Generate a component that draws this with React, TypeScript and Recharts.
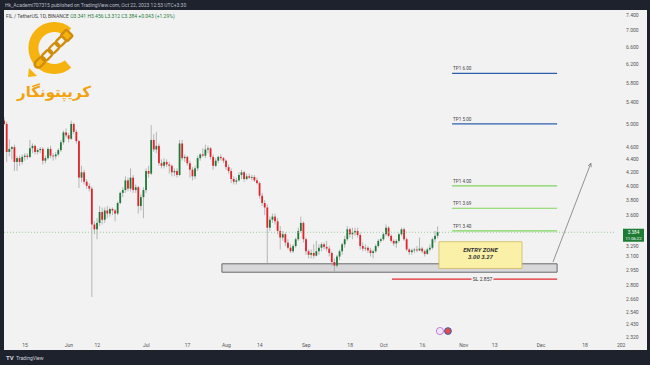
import React from 'react'
import {
  ComposedChart, Bar, XAxis, YAxis, ReferenceLine, ReferenceArea, ReferenceDot,
} from 'recharts'

// FIL / USDT daily candles, day index 0 = May 7 2023, last = Oct 22 2023
const opens = [
  5.06, 5.00, 4.52, 4.57, 4.60, 4.36, 4.42, 4.36, 4.44, 4.46, 4.44, 4.58, 4.62, 4.52, 4.55, 4.57, 4.38, 4.42, 4.57, 4.46,
  4.45, 4.48, 4.55, 4.68, 4.85, 4.80, 4.74, 5.00, 4.86, 4.70, 4.12, 4.20, 4.06, 4.00, 3.96, 3.48, 3.42, 3.50, 3.64, 3.54,
  3.66, 3.62, 3.68, 3.66, 3.62, 3.76, 3.90, 3.94, 4.08, 3.96, 4.12, 3.94, 3.98, 3.72, 3.84, 3.94, 4.22, 4.18, 4.72, 4.56,
  4.62, 4.34, 4.30, 4.36, 4.32, 4.30, 4.20, 4.22, 4.16, 4.66, 4.42, 4.44, 4.34, 4.24, 4.14, 4.26, 4.42, 4.48, 4.46, 4.56,
  4.58, 4.44, 4.30, 4.38, 4.44, 4.42, 4.38, 4.28, 4.22, 4.10, 4.06, 4.08, 4.16, 4.20, 4.10, 4.14, 4.12, 4.13, 4.08, 4.04,
  3.86, 3.76, 3.70, 3.44, 3.54, 3.58, 3.52, 3.40, 3.32, 3.36, 3.26, 3.20, 3.16, 3.22, 3.30, 3.40, 3.50, 3.30, 3.16, 3.12,
  3.14, 3.11, 3.16, 3.20, 3.24, 3.21, 3.19, 3.14, 3.04, 3.00, 3.10, 3.16, 3.24, 3.30, 3.42, 3.36, 3.38, 3.40, 3.35, 3.22,
  3.19, 3.20, 3.17, 3.14, 3.16, 3.22, 3.28, 3.30, 3.36, 3.44, 3.34, 3.28, 3.25, 3.28, 3.36, 3.42, 3.30, 3.18, 3.15, 3.17,
  3.18, 3.17, 3.19, 3.16, 3.13, 3.18, 3.20, 3.30, 3.341,
]
const highs = [
  5.12, 5.04, 4.73, 4.62, 4.64, 4.45, 4.46, 4.48, 4.50, 4.50, 4.72, 4.66, 4.64, 4.58, 4.60, 4.60, 4.46, 4.60, 4.62, 4.50,
  4.52, 4.58, 4.72, 4.88, 4.92, 4.84, 5.06, 5.02, 4.90, 4.72, 4.30, 4.24, 4.10, 4.04, 3.99, 3.52, 3.56, 3.72, 3.70, 3.70,
  3.72, 3.70, 3.70, 3.68, 3.78, 3.92, 3.98, 4.14, 4.12, 4.26, 4.16, 4.02, 4.00, 3.88, 3.98, 4.26, 4.30, 4.98, 4.82, 4.86,
  4.66, 4.40, 4.42, 4.40, 4.36, 4.32, 4.26, 4.26, 4.72, 4.72, 4.48, 4.46, 4.38, 4.28, 4.30, 4.46, 4.50, 4.58, 4.64, 4.62,
  4.60, 4.48, 4.42, 4.46, 4.48, 4.44, 4.40, 4.32, 4.26, 4.14, 4.12, 4.20, 4.24, 4.22, 4.18, 4.18, 4.16, 4.16, 4.12, 4.06,
  3.90, 3.80, 3.74, 3.58, 3.62, 3.62, 3.56, 3.46, 3.40, 3.38, 3.30, 3.24, 3.24, 3.32, 3.44, 3.58, 3.52, 3.32, 3.18, 3.18,
  3.24, 3.28, 3.24, 3.26, 3.26, 3.28, 3.22, 3.16, 3.08, 3.12, 3.18, 3.26, 3.34, 3.46, 3.44, 3.44, 3.44, 3.44, 3.38, 3.26,
  3.24, 3.22, 3.20, 3.18, 3.24, 3.30, 3.32, 3.38, 3.48, 3.46, 3.36, 3.30, 3.30, 3.38, 3.44, 3.44, 3.32, 3.20, 3.19, 3.20,
  3.22, 3.32, 3.21, 3.18, 3.20, 3.24, 3.32, 3.40, 3.456,
]
const lows = [
  4.98, 4.36, 4.45, 4.40, 4.22, 4.22, 4.30, 4.32, 4.38, 4.40, 4.42, 4.50, 4.48, 4.48, 4.50, 4.32, 4.34, 4.40, 4.42, 4.38,
  4.40, 4.45, 4.52, 4.64, 4.76, 4.68, 4.72, 4.82, 4.66, 3.97, 4.05, 4.02, 3.96, 3.92, 2.68, 3.36, 3.30, 3.46, 3.48, 3.50,
  3.56, 3.58, 3.60, 3.52, 3.60, 3.74, 3.84, 3.90, 3.92, 3.92, 3.90, 3.90, 3.62, 3.66, 3.56, 3.90, 4.12, 4.16, 4.52, 4.50,
  4.30, 4.26, 4.26, 4.28, 4.18, 4.14, 4.14, 4.12, 4.14, 4.38, 4.36, 4.30, 4.12, 4.08, 4.10, 4.22, 4.38, 4.44, 4.42, 4.50,
  4.40, 4.24, 4.28, 4.34, 4.38, 4.34, 4.24, 4.18, 4.04, 4.02, 4.02, 4.06, 4.10, 4.06, 4.08, 4.10, 4.08, 4.06, 4.02, 3.82,
  3.72, 3.60, 3.03, 3.40, 3.50, 3.48, 3.36, 3.18, 3.28, 3.22, 3.18, 3.14, 3.14, 3.20, 3.28, 3.38, 3.26, 3.12, 3.08, 3.08,
  3.08, 3.10, 3.12, 3.16, 3.18, 3.16, 3.10, 3.00, 2.94, 2.98, 3.06, 3.12, 3.20, 3.28, 3.32, 3.30, 3.34, 3.32, 3.18, 3.16,
  3.16, 3.14, 3.10, 3.08, 3.14, 3.20, 3.26, 3.28, 3.34, 3.32, 3.26, 3.22, 3.20, 3.26, 3.34, 3.28, 3.16, 3.12, 3.12, 3.14,
  3.15, 3.16, 3.14, 3.10, 3.12, 3.16, 3.18, 3.26, 3.312,
]
const closes = [
  5.00, 4.52, 4.57, 4.60, 4.36, 4.42, 4.36, 4.44, 4.46, 4.44, 4.58, 4.62, 4.52, 4.55, 4.57, 4.38, 4.42, 4.57, 4.46, 4.45,
  4.48, 4.55, 4.68, 4.85, 4.80, 4.74, 5.00, 4.86, 4.70, 4.12, 4.20, 4.06, 4.00, 3.96, 3.48, 3.42, 3.50, 3.64, 3.54, 3.66,
  3.62, 3.68, 3.66, 3.62, 3.76, 3.90, 3.94, 4.08, 3.96, 4.12, 3.94, 3.98, 3.72, 3.84, 3.94, 4.22, 4.18, 4.72, 4.56, 4.62,
  4.34, 4.30, 4.36, 4.32, 4.30, 4.20, 4.22, 4.16, 4.66, 4.42, 4.44, 4.34, 4.24, 4.14, 4.26, 4.42, 4.48, 4.46, 4.56, 4.58,
  4.44, 4.30, 4.38, 4.44, 4.42, 4.38, 4.28, 4.22, 4.10, 4.06, 4.08, 4.16, 4.20, 4.10, 4.14, 4.12, 4.13, 4.08, 4.04, 3.86,
  3.76, 3.70, 3.44, 3.54, 3.58, 3.52, 3.40, 3.32, 3.36, 3.26, 3.20, 3.16, 3.22, 3.30, 3.40, 3.50, 3.30, 3.16, 3.12, 3.14,
  3.11, 3.16, 3.20, 3.24, 3.21, 3.19, 3.14, 3.04, 3.00, 3.10, 3.16, 3.24, 3.30, 3.42, 3.36, 3.38, 3.40, 3.35, 3.22, 3.19,
  3.20, 3.17, 3.14, 3.16, 3.22, 3.28, 3.30, 3.36, 3.44, 3.34, 3.28, 3.25, 3.28, 3.36, 3.42, 3.30, 3.18, 3.15, 3.17, 3.18,
  3.17, 3.19, 3.16, 3.13, 3.18, 3.20, 3.30, 3.341, 3.384,
]

const timeTicks = [8, 25, 36, 55, 71, 86, 99, 117, 134, 147, 162, 178, 190, 208, 225, 239]
const timeLabels = ['15', 'Jun', '12', 'Jul', '17', 'Aug', '14', 'Sep', '18', 'Oct', '16', 'Nov', '13', 'Dec', '18', '202']
const priceTicks = [7.4, 7.0, 6.6, 6.2, 5.8, 5.4, 5.0, 4.6, 4.4, 4.2, 4.0, 3.8, 3.6, 3.29, 3.1, 2.95, 2.8, 2.66, 2.54, 2.43, 2.32]

// trade plan drawn on the chart
const tpValues = [6.0, 5.0, 4.0, 3.69, 3.4]
const tpLabels = ['TP1 6.00', 'TP1 5.00', 'TP1 4.00', 'TP1 3.69', 'TP1 3.40']
const tpColors = ['#2f5fab', '#2f5fab', '#7fd65e', '#7fd65e', '#7fd65e']
const tpSpan = [173.5, 214.2]
const stopLoss = 2.857
const stopSpan = [150.2, 214.2]
const zoneX = [84.3, 214.2]
const zoneY = [2.93, 3.02]
const entryX = [168.4, 200.6]
const entryY = [2.97, 3.27]
const arrowFrom = [212.6, 3.04]
const arrowTo = [227.3, 4.34]
const lastPrice = 3.384

const GREEN = '#1f7a3a'
const RED = '#e3232a'

function Candle(props: any) {
  const { x, y, width, height, payload } = props
  if (!payload || y == null || height == null) return null
  const top = Math.min(y, y + height)
  const h = Math.abs(height)
  const lh = Math.log(payload.high)
  const ll = Math.log(payload.low)
  const py = (p: number) => top + ((lh - Math.log(p)) / (lh - ll || 1)) * h
  const cx = x + width / 2
  const up = payload.close >= payload.open
  const yo = py(payload.open)
  const yc = py(payload.close)
  const bt = Math.min(yo, yc)
  const bh = Math.max(Math.abs(yc - yo), 0.8)
  return (
    <g>
      <line x1={cx} x2={cx} y1={top} y2={top + h} stroke="#9c9c9c" strokeWidth={0.7} />
      <rect x={cx - 0.9} y={bt} width={1.8} height={bh} fill={up ? GREEN : RED} />
    </g>
  )
}

function PriceTick({ x, y, payload }: any) {
  // the tick right under the live price label is pushed down, like TradingView does
  const shift = Math.abs(payload.value - 3.29) < 0.001 ? 6 : 0
  return (
    <text x={x + 10} y={y + shift} dy={1.8} fontSize={5} fill="#555" textAnchor="start">
      {payload.value.toFixed(3)}
    </text>
  )
}

function TimeTick({ x, y, index }: any) {
  return (
    <text x={x} y={y + 6} fontSize={5} fill="#555" textAnchor="middle">
      {timeLabels[index] ?? ''}
    </text>
  )
}

function Arrow({ x1, y1, x2, y2 }: any) {
  const a = Math.atan2(y2 - y1, x2 - x1)
  const s = 4
  const p1 = [x2 - s * Math.cos(a - 0.45), y2 - s * Math.sin(a - 0.45)]
  const p2 = [x2 - s * Math.cos(a + 0.45), y2 - s * Math.sin(a + 0.45)]
  return (
    <g stroke="#7a7a7a" strokeWidth={0.8} fill="none">
      <line x1={x1} y1={y1} x2={x2} y2={y2} />
      <polyline points={`${p1[0]},${p1[1]} ${x2},${y2} ${p2[0]},${p2[1]}`} />
    </g>
  )
}

function Logo() {
  return (
    <svg width={110} height={110} style={{ position: 'absolute', left: 0, top: 0 }}>
      <path d="M 68 32 A 21 21 0 1 0 68 64" stroke="#f6b30f" strokeWidth={10} fill="none" />
      <g transform="rotate(-45 53 50)" stroke="#d08d0a" strokeWidth={2.4} fill="none">
        <rect x={29} y={46} width={12} height={7} rx={3.5} />
        <rect x={39} y={46} width={12} height={7} rx={3.5} />
        <rect x={49} y={46} width={12} height={7} rx={3.5} />
        <rect x={59} y={46} width={12} height={7} rx={3.5} />
        <rect x={69} y={45} width={8} height={9} rx={1.5} fill="#f6b30f" />
      </g>
      <polygon points="28,77 29,68 37,76" fill="#f6b30f" />
      <text x={54} y={97} fontSize={15} fontWeight="bold" fill="#f2a20c" textAnchor="middle"
        fontFamily="'DejaVu Sans', sans-serif">کریپتونگار</text>
    </svg>
  )
}

export default function App() {
  const data = closes.map((c, i) => ({
    i, open: opens[i], high: highs[i], low: lows[i], close: c, range: [lows[i], highs[i]],
  }))

  return (
    <div style={{
      position: 'absolute', left: 0, top: 0, width: 650, height: 365,
      background: '#1e222d', overflow: 'hidden', fontFamily: 'Roboto, sans-serif',
    }}>
      <div style={{ position: 'absolute', left: 4, top: 10, width: 643, height: 340, background: '#f2f2f2' }} />
      <svg width={650} height={365} style={{ position: 'absolute', left: 0, top: 0 }}>
        <text x={5} y={7} fontSize={5} fill="#b8bcc6">
          Hk_Academi707315 published on TradingView.com, Oct 22, 2023 12:53 UTC+3:30
        </text>
        <text x={6} y={18} fontSize={5} fill="#444">
          FIL / TetherUS, 1D, BINANCE{'  '}
          <tspan fill={GREEN}>O3.341 H3.456 L3.312 C3.384 +0.043 (+1.29%)</tspan>
        </text>
        <text x={6} y={360} fontSize={6} fill="#d1d4dc" fontWeight="bold">TV</text>
        <text x={16} y={360} fontSize={5} fill="#d1d4dc">TradingView</text>
      </svg>

      <ComposedChart
        width={650} height={365} data={data}
        margin={{ top: 10, right: 3, bottom: 15, left: 4 }}
        style={{ position: 'absolute', left: 0, top: 0 }}
      >
        <XAxis
          type="number" dataKey="i" domain={[-0.155, 236.25]} allowDataOverflow
          ticks={timeTicks} interval={0} height={11}
          axisLine={false} tickLine={false} tickSize={0} tick={<TimeTick />}
        />
        <YAxis
          scale="log" domain={[2.303, 7.54]} allowDataOverflow orientation="right"
          ticks={priceTicks} interval={0} width={33}
          axisLine={false} tickLine={false} tickSize={0} tick={<PriceTick />}
        />

        <ReferenceArea
          x1={zoneX[0]} x2={zoneX[1]} y1={zoneY[0]} y2={zoneY[1]}
          fill="#d8d8db" fillOpacity={1} stroke="#6a6a6a" strokeWidth={1} ifOverflow="visible"
        />

        <Bar dataKey="range" barSize={2} isAnimationActive={false} shape={(p: any) => <Candle {...p} />} />

        <ReferenceLine y={lastPrice} stroke="#7cc47f" strokeDasharray="1 2" strokeWidth={0.8}
          label={(p: any) => {
            const yy = p.viewBox.y
            return (
              <g>
                <rect x={623} y={yy - 3.5} width={21} height={13} fill="#1e7b34" />
                <text x={633.5} y={yy + 1.8} fontSize={4.6} fill="#fff" textAnchor="middle">3.384</text>
                <text x={633.5} y={yy + 7.6} fontSize={4.2} fill="#fff" textAnchor="middle">11:06:22</text>
              </g>
            )
          }}
        />

        {tpValues.map((v, k) => (
          <ReferenceLine
            key={k}
            segment={[{ x: tpSpan[0], y: v }, { x: tpSpan[1], y: v }]}
            stroke={tpColors[k]} strokeWidth={1.2}
            label={(p: any) => (
              <text x={p.viewBox.x + 1} y={p.viewBox.y - 3} fontSize={4.6} fill="#444">{tpLabels[k]}</text>
            )}
          />
        ))}

        <ReferenceLine
          segment={[{ x: stopSpan[0], y: stopLoss }, { x: stopSpan[1], y: stopLoss }]}
          stroke="#e0282e" strokeWidth={1.3}
          label={(p: any) => {
            const cx = p.viewBox.x + p.viewBox.width / 2 + 8
            return (
              <g>
                <rect x={cx - 11} y={p.viewBox.y - 3} width={22} height={6} fill="#f2f2f2" />
                <text x={cx} y={p.viewBox.y + 1.8} fontSize={5} fill="#333" textAnchor="middle">SL  2.857</text>
              </g>
            )
          }}
        />

        <ReferenceArea
          x1={entryX[0]} x2={entryX[1]} y1={entryY[0]} y2={entryY[1]}
          fill="#fbf0a8" fillOpacity={1} stroke="#cdb95a" strokeWidth={0.8}
          label={(p: any) => {
            const vb = p.viewBox
            const cx = vb.x + vb.width / 2
            return (
              <g fill="#333" fontWeight="bold" fontStyle="italic" textAnchor="middle">
                <text x={cx} y={vb.y + 10} fontSize={6}>ENTRY ZONE</text>
                <text x={cx} y={vb.y + 17} fontSize={6}>3.00  3.27</text>
              </g>
            )
          }}
        />

        <ReferenceLine
          segment={[{ x: arrowFrom[0], y: arrowFrom[1] }, { x: arrowTo[0], y: arrowTo[1] }]}
          shape={(p: any) => <Arrow {...p} />}
        />

        <ReferenceDot x={168.8} y={2.37} r={3.6} fill="#f1e3f8" stroke="#b06ccf" strokeWidth={0.8} ifOverflow="visible" />
        <ReferenceDot x={171.9} y={2.37} r={3.4} fill="#e24b4b" stroke="#3b5fb0" strokeWidth={1} ifOverflow="visible" />
      </ComposedChart>

      <Logo />
    </div>
  )
}
